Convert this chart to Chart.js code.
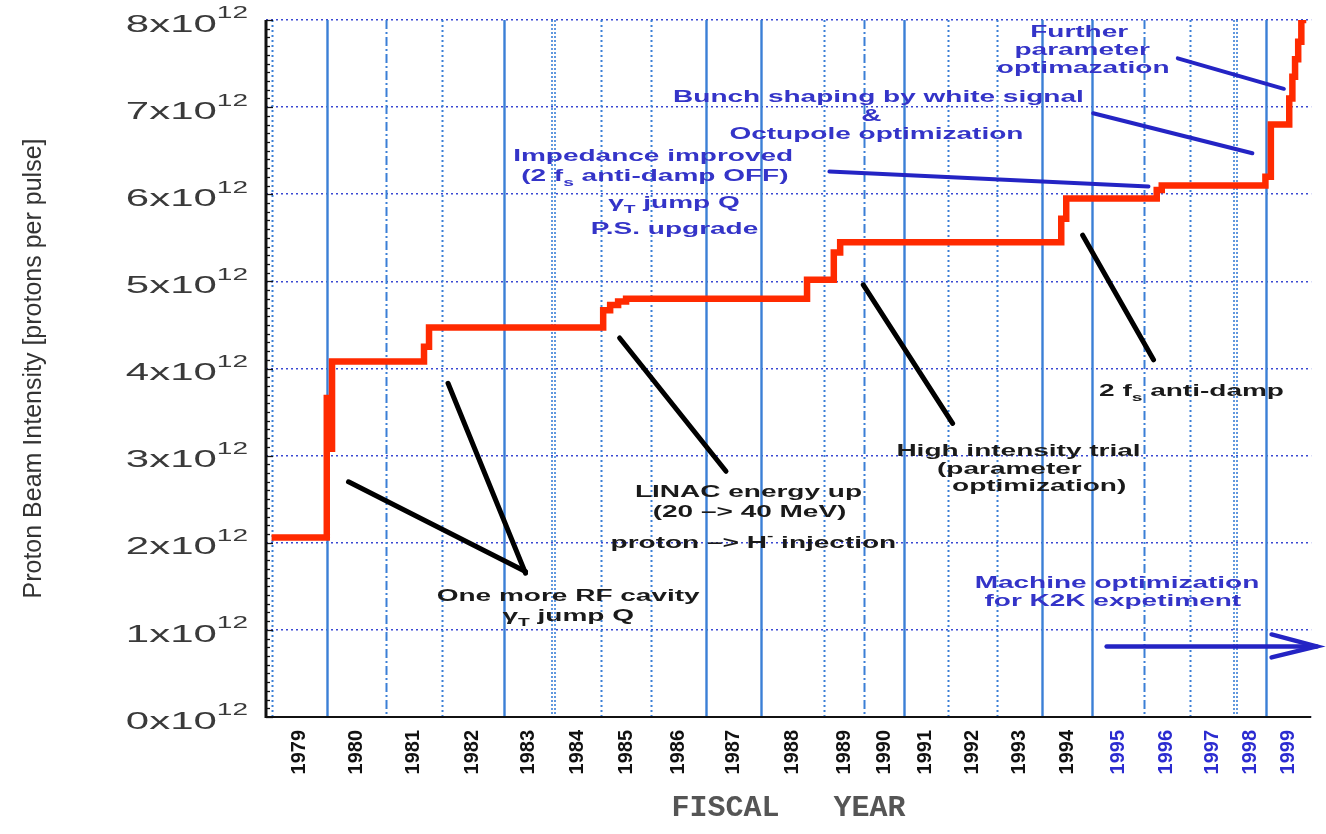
<!DOCTYPE html>
<html>
<head>
<meta charset="utf-8">
<script src="https://cdn.jsdelivr.net/npm/chart.js@4.4.1/dist/chart.umd.min.js"></script>
<style>
  html, body { margin: 0; padding: 0; background: #fff; }
  #wrap { width: 1326px; height: 834px; }
</style>
</head>
<body>
<div id="wrap"><canvas id="c" width="1326" height="834"></canvas></div>
<script>
// ---- data -------------------------------------------------------------
// fiscal years on the x axis; each year has its own width on the original axis
const fiscalYears = [1979, 1980, 1981, 1982, 1983, 1984, 1985, 1986, 1987, 1988, 1989,
                     1990, 1991, 1992, 1993, 1994, 1995, 1996, 1997, 1998, 1999];
const yearWidths  = [56, 59, 56, 62, 50, 48, 50, 55, 55, 64, 40,
                     40, 44, 49, 46, 50, 52, 46, 45, 32, 45];

// beam intensity (x1e12 protons/pulse), new level reached at the fractional fiscal year
const stepYears  = [1979.00, 1979.99, 1979.99, 1980.08, 1981.68, 1981.77, 1985.04, 1985.18,
                    1985.34, 1985.50, 1988.73, 1989.24, 1989.40, 1994.38, 1994.48, 1996.28,
                    1996.39, 1998.97, 1999.10, 1999.51, 1999.58, 1999.64, 1999.71, 1999.78, 1999.89];
const stepValues = [2.06, 3.70, 3.08, 4.08, 4.25, 4.47, 4.67, 4.73,
                    4.77, 4.80, 5.02, 5.33, 5.45, 5.72, 5.95, 6.05,
                    6.10, 6.20, 6.80, 7.10, 7.35, 7.55, 7.75, 8.00, 8.00];

const yTicks = [0, 1, 2, 3, 4, 5, 6, 7, 8];   // x1e12

// annotations: [text, fiscal year, intensity x1e12]  (_{..} subscript, ^{..} superscript)
const blueNotes = [
  ['Further', 1994.74, 7.87],
  ['parameter', 1994.80, 7.66],
  ['optimazation', 1994.82, 7.46],
  ['Bunch shaping by white signal', 1990.36, 7.12],
  ['&', 1990.18, 6.91],
  ['Octupole optimization', 1990.31, 6.70],
  ['Impedance improved', 1986.04, 6.45],
  ['(2 f_{s} anti-damp OFF)', 1986.07, 6.22],
  ['\u03B3_{T} jump Q', 1986.42, 5.91],
  ['P.S. upgrade', 1986.43, 5.61],
  ['Machine optimization', 1995.48, 1.55],
  ['for K2K expetiment', 1995.40, 1.34]
];
const blackNotes = [
  ['One more RF cavity', 1984.31, 1.40],
  ['\u03B3_{T} jump Q', 1984.31, 1.17],
  ['LINAC energy up', 1987.78, 2.59],
  ['(20 \u2013> 40 MeV)', 1987.80, 2.36],
  ['proton \u2013> H^{-} injection', 1987.87, 2.01],
  ['High intensity trial', 1993.48, 3.06],
  ['(parameter', 1993.28, 2.85],
  ['optimization)', 1993.93, 2.66],
  ['2 f_{s} anti-damp', 1997.04, 3.75]
];
// leader lines: [year1, value1, year2, value2]
const blueLeaders = [
  [1996.74, 7.56, 1999.39, 7.21],
  [1995.02, 6.93, 1998.56, 6.47],
  [1989.13, 6.26, 1996.10, 6.09]
];
const blackLeaders = [
  [1980.36, 2.70, 1983.44, 1.67],
  [1982.10, 3.83, 1983.44, 1.65],
  [1985.37, 4.35, 1987.37, 2.82],
  [1989.98, 4.96, 1992.10, 3.37],
  [1994.81, 5.53, 1996.21, 4.10]
];
const k2kArrow = [1995.28, 2000.12, 0.81];   // from year, to year, level

// ---- styles -------------------------------------------------------------
const yearLineStyle = ['dot', 'solid', 'dashdot', 'dot', 'solid', 'wavy', 'dot', 'dot', 'solid', 'solid', 'dot',
                       'dashdot', 'solid', 'dot', 'dot', 'solid', 'solid', 'dashdot', 'dot', 'wavy', 'solid'];
const RED = '#ff2a00';
const YEAR_LINE = '#3b7fd6';
const GRID_BLUE = '#3a48d2';
const NOTE_BLUE = '#3434c8';
const LEADER_BLUE = '#2424c4';
const STRETCH = 1.75;   // the original figure is stretched horizontally

// ---- helpers ------------------------------------------------------------
const yearStart = [];
yearWidths.reduce((acc, w, i) => { yearStart[i] = acc; return acc + w; }, 0);
const toAxis = yr => {
  let i = Math.floor(yr - fiscalYears[0]);
  i = Math.max(0, Math.min(yearWidths.length - 1, i));
  return yearStart[i] + (yr - fiscalYears[i]) * yearWidths[i];
};

function drawRich(ctx, str, x, y, size, color, weight, align) {
  const parts = [];
  const re = /_\{([^}]*)\}|\^\{([^}]*)\}|[^_^]+/g;
  let m;
  while ((m = re.exec(str))) {
    if (m[1] !== undefined) parts.push({ t: m[1], k: 'sub' });
    else if (m[2] !== undefined) parts.push({ t: m[2], k: 'sup' });
    else parts.push({ t: m[0], k: 'base' });
  }
  const fontFor = k => weight + ' ' + (k === 'base' ? size : Math.round(size * 0.68)) + 'px "Liberation Sans", Arial, sans-serif';
  ctx.save();
  ctx.translate(x, y);
  ctx.scale(STRETCH, 1);
  ctx.fillStyle = color;
  ctx.textAlign = 'left';
  ctx.textBaseline = 'alphabetic';
  let total = 0;
  parts.forEach(p => { ctx.font = fontFor(p.k); p.w = ctx.measureText(p.t).width; total += p.w; });
  let cx = align === 'right' ? -total : -total / 2;
  const base = size * 0.36;
  parts.forEach(p => {
    ctx.font = fontFor(p.k);
    const dy = p.k === 'sub' ? size * 0.32 : p.k === 'sup' ? -size * 0.55 : 0;
    ctx.fillText(p.t, cx, base + dy);
    cx += p.w;
  });
  ctx.restore();
}

const extras = {
  id: 'extras',
  beforeDatasetsDraw(chart) {
    const { ctx, chartArea: a, scales: { x } } = chart;
    ctx.save();
    ctx.strokeStyle = YEAR_LINE;
    yearLineStyle.forEach((st, i) => {
      const px = Math.round(x.getPixelForValue(toAxis(fiscalYears[i]))) + 0.5;
      const line = (dx, dash, w) => {
        ctx.lineWidth = w;
        ctx.setLineDash(dash);
        ctx.beginPath();
        ctx.moveTo(px + dx, a.top);
        ctx.lineTo(px + dx, a.bottom);
        ctx.stroke();
      };
      if (st === 'solid') line(0, [], 2.4);
      else if (st === 'dot') line(0, [2, 3], 2);
      else if (st === 'dashdot') line(0, [9, 3, 2, 3], 2);
      else { line(-1.5, [2, 2], 1.6); line(1.5, [2, 2], 1.6); }
    });
    ctx.restore();
  },
  afterDraw(chart) {
    const { ctx, chartArea: a, scales: { x, y } } = chart;
    const X = yr => x.getPixelForValue(toAxis(yr));
    const Y = v => y.getPixelForValue(v * 1e12);
    ctx.save();

    // axes with minor ticks
    ctx.strokeStyle = '#111';
    ctx.lineWidth = 2;
    ctx.beginPath();
    ctx.moveTo(a.left, a.bottom);
    ctx.lineTo(a.right, a.bottom);
    ctx.stroke();
    ctx.lineWidth = 3;
    ctx.beginPath();
    ctx.moveTo(a.left, a.top);
    ctx.lineTo(a.left, a.bottom + 1);
    ctx.stroke();
    ctx.lineWidth = 1.3;
    for (let k = 0; k <= 80; k++) {
      const py = Math.round(y.getPixelForValue(k * 1e11)) + 0.5;
      ctx.beginPath();
      ctx.moveTo(a.left, py);
      ctx.lineTo(a.left + (k % 10 === 0 ? 7 : 4), py);
      ctx.stroke();
    }

    // y tick labels  N x 10^12
    yTicks.forEach(v => drawRich(ctx, v + 'x10^{12}', 248, Y(v) + 3, 24, '#3a3a3a', 'normal', 'right'));

    // leader lines
    ctx.lineCap = 'round';
    ctx.strokeStyle = '#000';
    ctx.lineWidth = 5;
    blackLeaders.forEach(l => {
      ctx.beginPath(); ctx.moveTo(X(l[0]), Y(l[1])); ctx.lineTo(X(l[2]), Y(l[3])); ctx.stroke();
    });
    ctx.strokeStyle = LEADER_BLUE;
    ctx.lineWidth = 4;
    blueLeaders.forEach(l => {
      ctx.beginPath(); ctx.moveTo(X(l[0]), Y(l[1])); ctx.lineTo(X(l[2]), Y(l[3])); ctx.stroke();
    });

    // K2K arrow
    const ax0 = X(k2kArrow[0]), ax1 = X(k2kArrow[1]), ay = Y(k2kArrow[2]);
    ctx.lineWidth = 4.5;
    ctx.beginPath(); ctx.moveTo(ax0, ay); ctx.lineTo(ax1, ay); ctx.stroke();
    ctx.beginPath();
    ctx.moveTo(ax1 - 45, ay - 12); ctx.lineTo(ax1, ay); ctx.lineTo(ax1 - 45, ay + 11);
    ctx.stroke();

    // notes
    blueNotes.forEach(n => drawRich(ctx, n[0], X(n[1]), Y(n[2]), 16, NOTE_BLUE, 'bold', 'center'));
    blackNotes.forEach(n => drawRich(ctx, n[0], X(n[1]), Y(n[2]), 16, '#1a1a1a', 'bold', 'center'));
    ctx.restore();
  }
};

new Chart(document.getElementById('c'), {
  type: 'line',
  data: {
    datasets: [{
      data: stepYears.map((yr, i) => ({ x: toAxis(yr), y: stepValues[i] * 1e12 })),
      borderColor: RED,
      borderWidth: 6.5,
      stepped: 'before',
      pointRadius: 0,
      fill: false
    }]
  },
  options: {
    responsive: false,
    animation: false,
    layout: { padding: { top: 20, right: 10, left: 0, bottom: 0 } },
    plugins: { legend: { display: false }, tooltip: { enabled: false } },
    scales: {
      x: {
        type: 'linear',
        min: toAxis(1978.9),
        max: toAxis(2000),
        afterBuildTicks: s => { s.ticks = fiscalYears.map(yr => ({ value: toAxis(yr + 0.5) })); },
        afterFit: s => { s.height = 117; },
        grid: { display: false, drawTicks: false },
        border: { display: false },
        ticks: {
          autoSkip: false,
          minRotation: 90,
          maxRotation: 90,
          padding: 13,
          font: { family: 'Liberation Sans', size: 20, weight: 'bold' },
          color: c => (fiscalYears[c.index] >= 1995 ? '#2b2bd0' : '#111'),
          callback: (v, i) => fiscalYears[i]
        },
        title: {
          display: true,
          text: 'FISCAL   YEAR',
          color: '#555',
          font: { family: 'Liberation Mono', size: 30, weight: 'bold' },
          padding: { top: 0, bottom: 8 }
        }
      },
      y: {
        min: 0,
        max: 8e12,
        afterBuildTicks: s => { s.ticks = yTicks.map(v => ({ value: v * 1e12 })); },
        afterFit: s => { s.width = 266; },
        grid: { color: GRID_BLUE, lineWidth: 1.6, drawTicks: false },
        border: { display: false, dash: [2, 3] },
        ticks: { display: false },
        title: {
          display: true,
          text: 'Proton Beam Intensity [protons per pulse]',
          color: '#333',
          font: { family: 'Liberation Sans', size: 25 },
          padding: { top: 19, bottom: 0 }
        }
      }
    }
  },
  plugins: [extras]
});
</script>
</body>
</html>
